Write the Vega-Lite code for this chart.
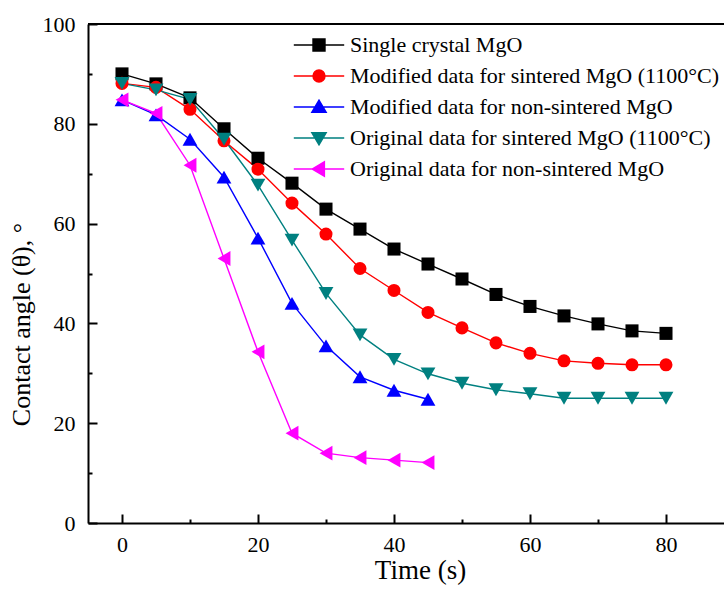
{
  "$schema": "https://vega.github.io/schema/vega-lite/v6.json",
  "width": 636,
  "height": 499,
  "autosize": {"type": "none"},
  "padding": {"left": 88, "top": 24, "right": 0, "bottom": 67},
  "background": "white",
  "config": {
    "view": {"stroke": null},
    "font": "Liberation Serif, Times New Roman, serif",
    "axis": {
      "labelFont": "Liberation Serif, Times New Roman, serif",
      "titleFont": "Liberation Serif, Times New Roman, serif",
      "labelFontSize": 22,
      "titleFontSize": 27,
      "titleFontWeight": "normal",
      "labelColor": "black",
      "titleColor": "black",
      "domainColor": "black",
      "domainWidth": 2,
      "tickColor": "black",
      "tickWidth": 2,
      "grid": false
    },
    "legend": {
      "labelFont": "Liberation Serif, Times New Roman, serif",
      "labelFontSize": 22,
      "labelColor": "black",
      "labelLimit": 0
    }
  },
  "datasets": {
    "d": [
      {"s": "Single crystal MgO", "t": 0, "a": 90.0},
      {"s": "Single crystal MgO", "t": 5, "a": 88.0},
      {"s": "Single crystal MgO", "t": 10, "a": 85.2},
      {"s": "Single crystal MgO", "t": 15, "a": 79.0},
      {"s": "Single crystal MgO", "t": 20, "a": 73.1},
      {"s": "Single crystal MgO", "t": 25, "a": 68.1},
      {"s": "Single crystal MgO", "t": 30, "a": 62.9},
      {"s": "Single crystal MgO", "t": 35, "a": 58.9},
      {"s": "Single crystal MgO", "t": 40, "a": 54.9},
      {"s": "Single crystal MgO", "t": 45, "a": 51.9},
      {"s": "Single crystal MgO", "t": 50, "a": 48.9},
      {"s": "Single crystal MgO", "t": 55, "a": 45.8},
      {"s": "Single crystal MgO", "t": 60, "a": 43.4},
      {"s": "Single crystal MgO", "t": 65, "a": 41.5},
      {"s": "Single crystal MgO", "t": 70, "a": 39.9},
      {"s": "Single crystal MgO", "t": 75, "a": 38.5},
      {"s": "Single crystal MgO", "t": 80, "a": 38.0},
      {"s": "Modified data for sintered MgO (1100°C)", "t": 0, "a": 88.1},
      {"s": "Modified data for sintered MgO (1100°C)", "t": 5, "a": 87.3},
      {"s": "Modified data for sintered MgO (1100°C)", "t": 10, "a": 82.9},
      {"s": "Modified data for sintered MgO (1100°C)", "t": 15, "a": 76.6},
      {"s": "Modified data for sintered MgO (1100°C)", "t": 20, "a": 70.9},
      {"s": "Modified data for sintered MgO (1100°C)", "t": 25, "a": 64.1},
      {"s": "Modified data for sintered MgO (1100°C)", "t": 30, "a": 57.9},
      {"s": "Modified data for sintered MgO (1100°C)", "t": 35, "a": 51.0},
      {"s": "Modified data for sintered MgO (1100°C)", "t": 40, "a": 46.6},
      {"s": "Modified data for sintered MgO (1100°C)", "t": 45, "a": 42.2},
      {"s": "Modified data for sintered MgO (1100°C)", "t": 50, "a": 39.1},
      {"s": "Modified data for sintered MgO (1100°C)", "t": 55, "a": 36.1},
      {"s": "Modified data for sintered MgO (1100°C)", "t": 60, "a": 34.0},
      {"s": "Modified data for sintered MgO (1100°C)", "t": 65, "a": 32.5},
      {"s": "Modified data for sintered MgO (1100°C)", "t": 70, "a": 32.0},
      {"s": "Modified data for sintered MgO (1100°C)", "t": 75, "a": 31.7},
      {"s": "Modified data for sintered MgO (1100°C)", "t": 80, "a": 31.7},
      {"s": "Modified data for non-sintered MgO", "t": 0, "a": 84.8},
      {"s": "Modified data for non-sintered MgO", "t": 5, "a": 81.8},
      {"s": "Modified data for non-sintered MgO", "t": 10, "a": 76.9},
      {"s": "Modified data for non-sintered MgO", "t": 15, "a": 69.3},
      {"s": "Modified data for non-sintered MgO", "t": 20, "a": 57.1},
      {"s": "Modified data for non-sintered MgO", "t": 25, "a": 44.0},
      {"s": "Modified data for non-sintered MgO", "t": 30, "a": 35.5},
      {"s": "Modified data for non-sintered MgO", "t": 35, "a": 29.3},
      {"s": "Modified data for non-sintered MgO", "t": 40, "a": 26.6},
      {"s": "Modified data for non-sintered MgO", "t": 45, "a": 24.8},
      {"s": "Original data for sintered MgO (1100°C)", "t": 0, "a": 88.1},
      {"s": "Original data for sintered MgO (1100°C)", "t": 5, "a": 86.8},
      {"s": "Original data for sintered MgO (1100°C)", "t": 10, "a": 84.9},
      {"s": "Original data for sintered MgO (1100°C)", "t": 15, "a": 76.9},
      {"s": "Original data for sintered MgO (1100°C)", "t": 20, "a": 67.7},
      {"s": "Original data for sintered MgO (1100°C)", "t": 25, "a": 56.7},
      {"s": "Original data for sintered MgO (1100°C)", "t": 30, "a": 46.0},
      {"s": "Original data for sintered MgO (1100°C)", "t": 35, "a": 37.7},
      {"s": "Original data for sintered MgO (1100°C)", "t": 40, "a": 32.8},
      {"s": "Original data for sintered MgO (1100°C)", "t": 45, "a": 29.9},
      {"s": "Original data for sintered MgO (1100°C)", "t": 50, "a": 28.0},
      {"s": "Original data for sintered MgO (1100°C)", "t": 55, "a": 26.7},
      {"s": "Original data for sintered MgO (1100°C)", "t": 60, "a": 25.9},
      {"s": "Original data for sintered MgO (1100°C)", "t": 65, "a": 25.0},
      {"s": "Original data for sintered MgO (1100°C)", "t": 70, "a": 25.0},
      {"s": "Original data for sintered MgO (1100°C)", "t": 75, "a": 25.0},
      {"s": "Original data for sintered MgO (1100°C)", "t": 80, "a": 25.0},
      {"s": "Original data for non-sintered MgO", "t": 0, "a": 84.8},
      {"s": "Original data for non-sintered MgO", "t": 5, "a": 82.1},
      {"s": "Original data for non-sintered MgO", "t": 10, "a": 71.7},
      {"s": "Original data for non-sintered MgO", "t": 15, "a": 53.0},
      {"s": "Original data for non-sintered MgO", "t": 20, "a": 34.3},
      {"s": "Original data for non-sintered MgO", "t": 25, "a": 18.0},
      {"s": "Original data for non-sintered MgO", "t": 30, "a": 14.0},
      {"s": "Original data for non-sintered MgO", "t": 35, "a": 13.1},
      {"s": "Original data for non-sintered MgO", "t": 40, "a": 12.6},
      {"s": "Original data for non-sintered MgO", "t": 45, "a": 12.1}
    ]
  },
  "data": {"name": "d"},
  "encoding": {
    "x": {
      "field": "t", "type": "quantitative",
      "scale": {"domain": [-5, 88.53], "nice": false, "zero": false},
      "axis": {
        "title": "Time (s)",
        "values": [0, 10, 20, 30, 40, 50, 60, 70, 80],
        "labelExpr": "datum.value % 20 === 0 ? datum.label : ''",
        "labelFont": "Liberation Serif, Times New Roman, serif",
        "titleFont": "Liberation Serif, Times New Roman, serif",
        "tickSize": {"condition": {"test": "datum.value % 20 === 0", "value": -9}, "value": -4},
        "labelPadding": 20,
        "titlePadding": 2,
        "titleX": 332
      }
    },
    "y": {
      "field": "a", "type": "quantitative",
      "scale": {"domain": [0, 100], "nice": false},
      "axis": {
        "title": "Contact angle (θ), °",
        "titleFontSize": 26,
        "values": [0, 10, 20, 30, 40, 50, 60, 70, 80, 90, 100],
        "labelExpr": "datum.value % 20 === 0 ? datum.label : ''",
        "labelFont": "Liberation Serif, Times New Roman, serif",
        "titleFont": "Liberation Serif, Times New Roman, serif",
        "tickSize": {"condition": {"test": "datum.value % 20 === 0", "value": -9}, "value": -4},
        "labelPadding": 22,
        "titlePadding": 8,
        "titleY": 300
      }
    }
  },
  "layer": [
    {
      "mark": {"type": "rule", "color": "black", "strokeWidth": 2},
      "encoding": {"y": {"datum": 100}, "x": null}
    },
    {
      "mark": {"type": "line", "strokeWidth": 1.4},
      "encoding": {
        "color": {
          "field": "s", "type": "nominal", "legend": null,
          "scale": {
            "domain": ["Modified data for non-sintered MgO", "Modified data for sintered MgO (1100°C)", "Original data for non-sintered MgO", "Original data for sintered MgO (1100°C)", "Single crystal MgO"],
            "range": ["#0000ff", "#ff0000", "#ff00ff", "#008080", "#000000"]
          }
        }
      }
    },
    {
      "transform": [{"filter": "datum.s === 'Single crystal MgO'"}],
      "mark": {"type": "point", "shape": "square", "filled": true, "opacity": 1, "size": 170},
      "encoding": {"color": {"field": "s", "type": "nominal", "legend": null}}
    },
    {
      "transform": [{"filter": "datum.s === 'Modified data for sintered MgO (1100°C)'"}],
      "mark": {"type": "point", "shape": "circle", "filled": true, "opacity": 1, "size": 170},
      "encoding": {"color": {"field": "s", "type": "nominal", "legend": null}}
    },
    {
      "transform": [{"filter": "datum.s === 'Modified data for non-sintered MgO'"}],
      "mark": {"type": "point", "shape": "triangle-up", "filled": true, "opacity": 1, "size": 220},
      "encoding": {"color": {"field": "s", "type": "nominal", "legend": null}}
    },
    {
      "transform": [{"filter": "datum.s === 'Original data for sintered MgO (1100°C)'"}],
      "mark": {"type": "point", "shape": "triangle-down", "filled": true, "opacity": 1, "size": 220},
      "encoding": {"color": {"field": "s", "type": "nominal", "legend": null}}
    },
    {
      "transform": [{"filter": "datum.s === 'Original data for non-sintered MgO'"}],
      "mark": {"type": "point", "shape": "triangle-left", "filled": true, "opacity": 1, "size": 220},
      "encoding": {"color": {"field": "s", "type": "nominal", "legend": null}}
    },
    {
      "mark": {"type": "point", "filled": true, "opacity": 0, "size": 144},
      "encoding": {
        "shape": {
          "field": "s", "type": "nominal",
          "scale": {
            "domain": ["Single crystal MgO", "Modified data for sintered MgO (1100°C)", "Modified data for non-sintered MgO", "Original data for sintered MgO (1100°C)", "Original data for non-sintered MgO"],
            "range": [
              "M-4.2,0H4.2M-1,-1H1V1H-1Z",
              "M-4.2,0H4.2M1,0A1,1,0,1,1,-1,0A1,1,0,1,1,1,0Z",
              "M-4.2,0H4.2M0,-1.15L1.2,0.9H-1.2Z",
              "M-4.2,0H4.2M0,1.15L1.2,-0.9H-1.2Z",
              "M-4.2,0H4.2M-1.15,0L0.9,-1.2V1.2Z"
            ]
          },
          "legend": {
            "title": null,
            "orient": "none",
            "legendX": 220,
            "legendY": 10,
            "padding": 0,
            "symbolSize": 144,
            "symbolStrokeWidth": 1.4,
            "symbolOpacity": 1,
            "labelOffset": 20,
            "rowPadding": 9,
            "labelFontSize": 22,
            "labelFont": "Liberation Serif, Times New Roman, serif"
          }
        },
        "fill": {
          "field": "s", "type": "nominal",
          "scale": {
            "domain": ["Single crystal MgO", "Modified data for sintered MgO (1100°C)", "Modified data for non-sintered MgO", "Original data for sintered MgO (1100°C)", "Original data for non-sintered MgO"],
            "range": ["#000000", "#ff0000", "#0000ff", "#008080", "#ff00ff"]
          }
        },
        "stroke": {
          "field": "s", "type": "nominal",
          "scale": {
            "domain": ["Single crystal MgO", "Modified data for sintered MgO (1100°C)", "Modified data for non-sintered MgO", "Original data for sintered MgO (1100°C)", "Original data for non-sintered MgO"],
            "range": ["#000000", "#ff0000", "#0000ff", "#008080", "#ff00ff"]
          }
        }
      }
    }
  ]
}
